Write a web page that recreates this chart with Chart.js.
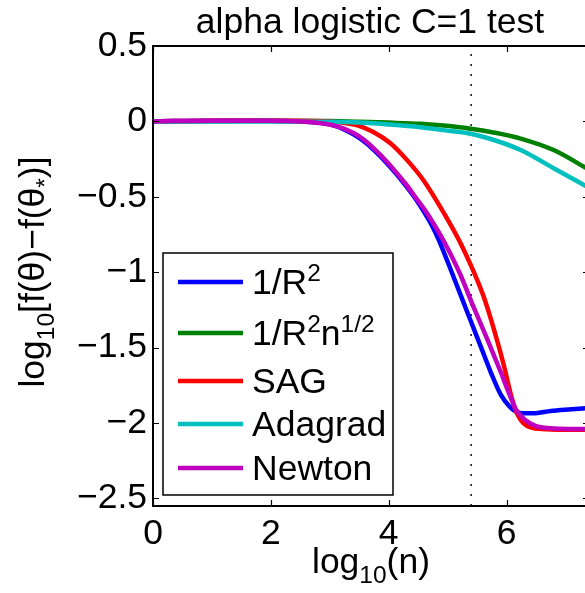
<!DOCTYPE html>
<html><head><meta charset="utf-8">
<script src="https://cdn.jsdelivr.net/npm/chart.js@4"></script>
<style>html,body{margin:0;padding:0;overflow:hidden;background:#fff}canvas{display:block}</style>
</head><body>
<canvas id="c" width="592" height="593"></canvas>
<script>
// ---- data ----
const xTicks = [0, 2, 4, 6];
const xTickLabels = ['0', '2', '4', '6'];
const yTicks = [0.5, 0, -0.5, -1, -1.5, -2, -2.5];
const yTickLabels = ['0.5', '0', '\u22120.5', '\u22121', '\u22121.5', '\u22122', '\u22122.5'];
const seriesNames = ['1/R2', '1/R2n1/2', 'SAG', 'Adagrad', 'Newton'];

const blueX = [0, 1, 2, 2.5, 3, 3.25, 3.5, 3.75, 4, 4.3, 4.45, 4.6, 4.72, 4.85, 5.1, 5.34, 5.56, 5.73, 5.9, 6.05, 6.16, 6.3, 6.45, 6.75, 7.05, 7.4];
const blueY = [0, 0.005, 0.005, 0, -0.02, -0.055, -0.11, -0.19, -0.29, -0.43, -0.51, -0.6, -0.68, -0.785, -1.03, -1.27, -1.49, -1.66, -1.81, -1.89, -1.925, -1.935, -1.935, -1.92, -1.91, -1.9];

const greenX = [0, 2, 3, 3.5, 4, 4.54, 4.88, 5.39, 5.8, 6.24, 6.8, 7.4];
const greenY = [0, 0.003, 0.002, -0.002, -0.008, -0.016, -0.026, -0.048, -0.075, -0.114, -0.19, -0.32];

const redX = [0, 1, 2, 2.5, 3, 3.25, 3.47, 3.74, 4.03, 4.32, 4.59, 4.88, 5.19, 5.39, 5.5, 5.61, 5.78, 5.95, 6.08, 6.16, 6.25, 6.35, 6.6, 7.0, 7.4];
const redY = [0, 0.005, 0.005, 0.005, 0, -0.01, -0.026, -0.07, -0.145, -0.26, -0.39, -0.57, -0.785, -0.95, -1.05, -1.16, -1.37, -1.61, -1.82, -1.92, -1.985, -2.02, -2.04, -2.045, -2.045];

const cyanX = [0, 2, 3, 3.5, 4, 4.54, 4.88, 5.39, 5.8, 6.24, 6.8, 7.4];
const cyanY = [0, 0, -0.002, -0.008, -0.02, -0.038, -0.056, -0.082, -0.125, -0.19, -0.31, -0.44];

const magentaX = [0, 1, 2, 2.5, 3, 3.25, 3.5, 3.75, 4, 4.3, 4.45, 4.6, 4.75, 4.93, 5.21, 5.44, 5.68, 5.9, 6.05, 6.16, 6.3, 6.5, 6.75, 7.05, 7.4];
const magentaY = [0, 0.005, 0.005, 0, -0.02, -0.05, -0.1, -0.18, -0.28, -0.42, -0.5, -0.58, -0.67, -0.79, -1.01, -1.23, -1.45, -1.66, -1.81, -1.91, -1.975, -2.02, -2.035, -2.04, -2.04];

const refLineX = [5.4, 5.4];
const refLineY = [-2.55, 0.5];

// ---- helpers ----
const FONT = '"Liberation Sans", Arial, Helvetica, sans-serif';
const FS = 35.5, SS = 24.5;
Chart.defaults.font.family = FONT;
const pts = (xs, ys) => xs.map((x, i) => ({x: x, y: ys[i]}));
const colors = ['#0000ff', '#008000', '#ff0000', '#00bfbf', '#bf00bf'];
const legendRich = [
  [{t:'1/R', s:FS}, {t:'2', s:SS, dy:-13}],
  [{t:'1/R', s:FS}, {t:'2', s:SS, dy:-13}, {t:'n', s:FS}, {t:'1/2', s:SS, dy:-13}],
  [{t:'SAG', s:FS}],
  [{t:'Adagrad', s:FS}],
  [{t:'Newton', s:FS}]
];

function richWidth(ctx, segs){
  let w = 0;
  for (const g of segs){ ctx.font = g.s + 'px ' + FONT; w += ctx.measureText(g.t).width; }
  return w;
}
function drawRich(ctx, segs, x, y){
  let cx = x;
  for (const g of segs){
    ctx.font = g.s + 'px ' + FONT;
    ctx.fillText(g.t, cx, y + (g.dy || 0));
    cx += ctx.measureText(g.t).width;
  }
}

const decor = {
  id: 'decor',
  afterDatasetsDraw(chart){
    const {ctx, chartArea: a, scales: {x, y}} = chart;
    ctx.save();
    // box
    ctx.strokeStyle = '#000';
    ctx.lineWidth = 2;
    ctx.strokeRect(a.left, a.top, a.right - a.left, a.bottom - a.top);
    // inward ticks
    ctx.lineWidth = 1.2;
    ctx.beginPath();
    for (const v of xTicks){
      const p = Math.round(x.getPixelForValue(v)) + 0.5;
      ctx.moveTo(p, a.bottom); ctx.lineTo(p, a.bottom - 6);
      ctx.moveTo(p, a.top); ctx.lineTo(p, a.top + 6);
    }
    for (const v of yTicks){
      const p = Math.round(y.getPixelForValue(v)) + 0.5;
      ctx.moveTo(a.left, p); ctx.lineTo(a.left + 6, p);
      ctx.moveTo(a.right, p); ctx.lineTo(a.right - 6, p);
    }
    ctx.stroke();

    // legend
    const lx = 163, ly = 253, lw = 230, lh = 242;
    ctx.fillStyle = '#fff';
    ctx.fillRect(lx, ly, lw, lh);
    ctx.lineWidth = 1.5;
    ctx.strokeStyle = '#000';
    ctx.strokeRect(lx, ly, lw, lh);
    const rows = [282, 333, 381, 424, 468];
    ctx.textAlign = 'left';
    ctx.textBaseline = 'alphabetic';
    rows.forEach((ry, i) => {
      ctx.strokeStyle = colors[i];
      ctx.lineWidth = 4.5;
      ctx.beginPath(); ctx.moveTo(178, ry); ctx.lineTo(243, ry); ctx.stroke();
      ctx.fillStyle = '#000';
      drawRich(ctx, legendRich[i], 252, ry + 12);
    });

    // title
    ctx.fillStyle = '#000';
    ctx.font = FS + 'px ' + FONT;
    ctx.textAlign = 'center';
    ctx.fillText('alpha logistic C=1 test', 370, 33);

    // x label
    ctx.textAlign = 'left';
    const xl = [{t:'log', s:FS}, {t:'10', s:SS, dy:10}, {t:'(n)', s:FS}];
    const xw = richWidth(ctx, xl);
    drawRich(ctx, xl, 371 - xw / 2, 573);

    // y label
    const yl = [{t:'log', s:FS}, {t:'10', s:SS, dy:10}, {t:'[f(\u03b8)\u2212f(\u03b8', s:FS}, {t:'*', s:SS, dy:9}, {t:')]', s:FS}];
    const yw = richWidth(ctx, yl);
    ctx.translate(44, 272);
    ctx.rotate(-Math.PI / 2);
    drawRich(ctx, yl, -yw / 2, 0);
    ctx.restore();
  }
};

const mk = (label, xs, ys, color, order) => ({
  label, data: pts(xs, ys), borderColor: color, borderWidth: 4.5,
  pointRadius: 0, fill: false, cubicInterpolationMode: 'monotone', order
});

new Chart(document.getElementById('c'), {
  type: 'line',
  data: {
    datasets: [
      mk(seriesNames[0], blueX, blueY, colors[0], 5),
      mk(seriesNames[1], greenX, greenY, colors[1], 4),
      mk(seriesNames[2], redX, redY, colors[2], 3),
      mk(seriesNames[3], cyanX, cyanY, colors[3], 2),
      mk(seriesNames[4], magentaX, magentaY, colors[4], 1),
      {label: 'ref', data: pts(refLineX, refLineY), borderColor: '#222', borderWidth: 1.6,
       borderDash: [2, 8], pointRadius: 0, fill: false, order: 6}
    ]
  },
  options: {
    responsive: false, animation: false, devicePixelRatio: 1,
    layout: {padding: {left: 0, right: 3, top: 46, bottom: 0}},
    plugins: {legend: {display: false}, tooltip: {enabled: false}, title: {display: false}},
    scales: {
      x: {
        type: 'linear', min: 0, max: 7.4,
        border: {display: false},
        grid: {display: false, drawTicks: false},
        afterBuildTicks: s => { s.ticks = xTicks.map(v => ({value: v})); },
        afterFit: s => { s.height = 87; },
        ticks: {autoSkip: false, maxRotation: 0, padding: 7, color: '#000',
                font: {size: FS, family: FONT}, callback: (v, i) => xTickLabels[i]}
      },
      y: {
        type: 'linear', min: -2.55, max: 0.5,
        border: {display: false},
        grid: {display: false, drawTicks: false},
        afterBuildTicks: s => { s.ticks = yTicks.map(v => ({value: v})); },
        afterFit: s => { s.width = 153; },
        ticks: {autoSkip: false, padding: 6, color: '#000',
                font: {size: FS, family: FONT}, callback: (v, i) => yTickLabels[i]}
      }
    }
  },
  plugins: [decor]
});
</script>
</body></html>
